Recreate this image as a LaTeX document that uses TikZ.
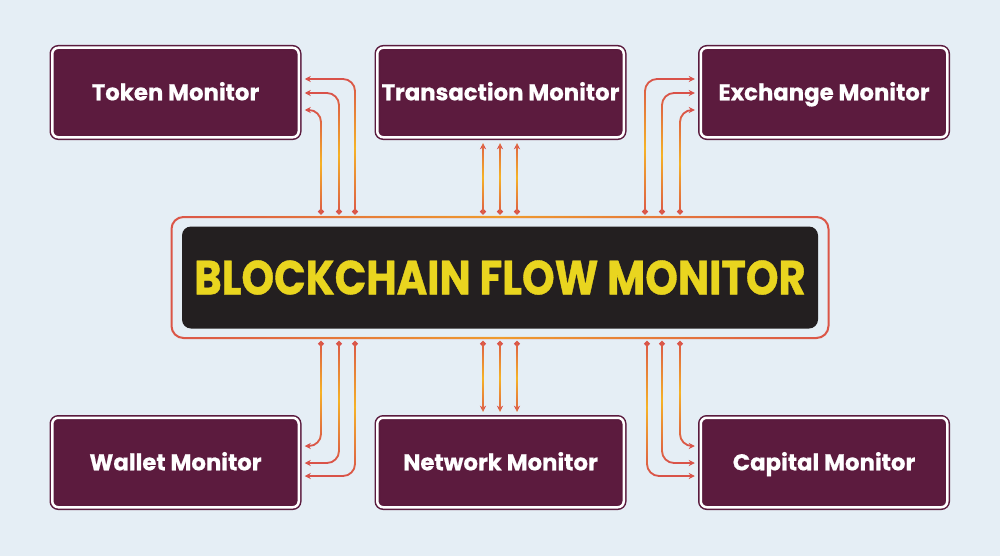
\documentclass[tikz,border=0pt]{standalone}
\usepackage{fontspec}
\setmainfont{Poppins}[BoldFeatures={FakeBold=0.6}]
\newfontfamily\titlefont{Poppins}[FakeStretch=0.865, BoldFeatures={FakeBold=0.8}]
\usetikzlibrary{arrows.meta,calc,fadings}

\definecolor{bgblue}{HTML}{E5EEF5}
\definecolor{boxred}{HTML}{5C1B3E}
\definecolor{boxline}{HTML}{5A1A3D}
\definecolor{coreblack}{HTML}{231F20}
\definecolor{titleyellow}{HTML}{E9D51F}
\definecolor{flowred}{HTML}{D9514A}
\definecolor{flowglow}{HTML}{F6B326}
\definecolor{framered}{HTML}{DB5548}

\tikzfading[name=midglow, top color=transparent!100, bottom color=transparent!100, middle color=transparent!0]
\tikzfading[name=sideglow, left color=transparent!100, right color=transparent!100, middle color=transparent!25]

\begin{document}
\begin{tikzpicture}[
        x=0.5pt, y=-0.5pt,
        monitor/.style={
            rectangle,
            rounded corners=3pt,
            fill=boxred,
            draw=boxline,
            double=white,
            double distance=1.25pt,
            line width=0.75pt,
            minimum width=123.25pt,
            minimum height=44.75pt,
            inner sep=0pt,
            outer sep=0pt,
            text height=7.8pt,
            text depth=0pt,
            text=white,
            font=\bfseries\fontsize{11.4}{13}\selectfont
        },
        frame/.style={
            rectangle,
            rounded corners=6pt,
            draw=framered,
            line width=1pt,
            minimum width=328.5pt,
            minimum height=60.5pt,
            outer sep=0pt,
            postaction={draw=flowglow, path fading=sideglow}
        },
        core/.style={
            rectangle,
            rounded corners=4.5pt,
            fill=coreblack,
            minimum width=318pt,
            minimum height=51pt,
            outer sep=0pt,
            text=titleyellow,
            font=\titlefont\bfseries\fontsize{24}{28}\selectfont
        },
        flow/.style={
            draw=flowred,
            line width=0.9pt,
            rounded corners=6pt,
            arrows={Circle[length=2.8pt]-Stealth[length=3pt,width=3pt]},
            shorten >=3pt,
            postaction={draw=flowglow, arrows=-, path fading=midglow}
        }
    ]
        % Background
        \fill[bgblue] (0,0) rectangle (1000,556);
        \useasboundingbox (0,0) rectangle (1000,556);
        % Central monitor
        \node[frame] (frame) at (500,277.5) {};
        \node[core] (core) at (500,277.5) {BLOCKCHAIN FLOW MONITOR};
        % Monitor boxes
        \foreach \name/\label/\x/\y in {
            tok/Token Monitor/175.5/92.5,
            trx/Transaction Monitor/500.5/92.5,
            exc/Exchange Monitor/824/92.5,
            wal/Wallet Monitor/175.5/462.5,
            net/Network Monitor/500.5/462.5,
            cap/Capital Monitor/824/462.5} {
            \node[monitor] (\name) at (\x,\y) {\label};
        }
        % Links to the top row
        \foreach \x/\dy in {355/-13.5, 339/0.5, 321/17.5} {
            \draw[flow, shorten <=1.3pt] (\x,0 |- frame.north) |- ($(tok.east)+(0,\dy)$);
        }
        \foreach \x in {483, 500, 517} {
            \draw[flow, shorten <=1.3pt] (\x,0 |- frame.north) -- (\x,0 |- trx.south);
        }
        \foreach \x/\dy in {645/-13.5, 662/0.5, 680/17.5} {
            \draw[flow, shorten <=1.3pt] (\x,0 |- frame.north) |- ($(exc.west)+(0,\dy)$);
        }
        % Links to the bottom row
        \foreach \x/\dy in {321/-16.5, 339/0.5, 355/13.5} {
            \draw[flow, shorten <=1.5pt] (\x,0 |- frame.south) |- ($(wal.east)+(0,\dy)$);
        }
        \foreach \x in {483, 500, 517} {
            \draw[flow, shorten <=1.5pt] (\x,0 |- frame.south) -- (\x,0 |- net.north);
        }
        \foreach \x/\dy in {680/-16.5, 662/0.5, 647/13.5} {
            \draw[flow, shorten <=1.5pt] (\x,0 |- frame.south) |- ($(cap.west)+(0,\dy)$);
        }
    \end{tikzpicture}
\end{document}
